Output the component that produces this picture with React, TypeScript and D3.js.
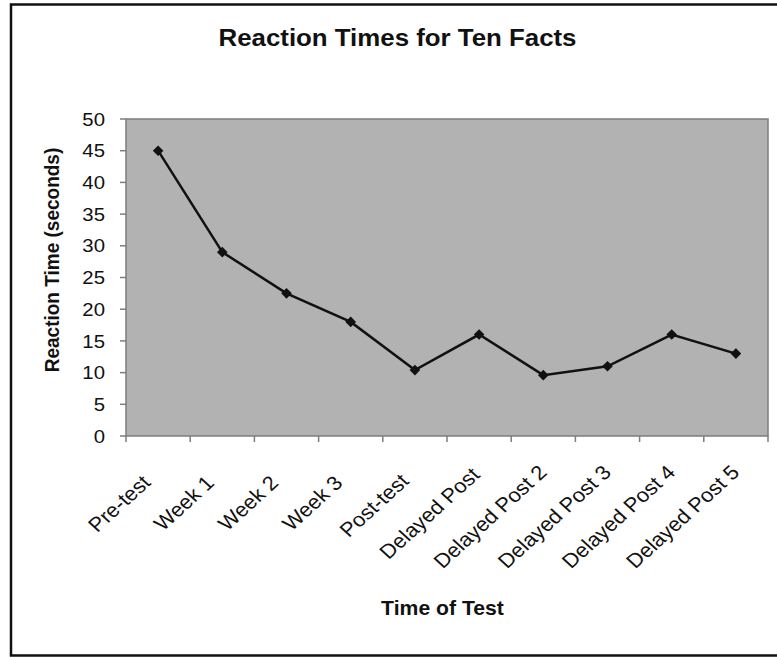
import React, { useEffect, useRef } from 'react';
import * as d3 from 'd3';

const categories = [
  'Pre-test', 'Week 1', 'Week 2', 'Week 3', 'Post-test',
  'Delayed Post', 'Delayed Post 2', 'Delayed Post 3', 'Delayed Post 4', 'Delayed Post 5',
];
const reactionTimes = [45, 29, 22.5, 18, 10.4, 16, 9.6, 11, 16, 13];
const yTicks = [0, 5, 10, 15, 20, 25, 30, 35, 40, 45, 50];

const W = 777;
const H = 657;
const FONT = 'Arial, "Liberation Sans", Helvetica, sans-serif';
const STRETCH = 1.1; // the source picture is a bit wider than tall

const App: React.FC = () => {
  const svgRef = useRef<SVGSVGElement>(null);

  useEffect(() => {
    if (!svgRef.current) return;
    const svg = d3.select(svgRef.current);
    svg.selectAll('*').remove();

    const plot = { left: 126, top: 119, right: 768, bottom: 436 };

    const x = d3.scaleBand<string>().domain(categories).range([plot.left, plot.right]);
    const y = d3.scaleLinear().domain([0, 50]).range([plot.bottom, plot.top]);
    const cx = (c: string) => (x(c) as number) + x.bandwidth() / 2;

    // outer frame
    svg.append('rect')
      .attr('x', 11).attr('y', 4.5)
      .attr('width', 780).attr('height', 651)
      .attr('fill', 'white')
      .attr('stroke', '#111').attr('stroke-width', 2.5);

    // plot background
    svg.append('rect')
      .attr('x', plot.left).attr('y', plot.top)
      .attr('width', plot.right - plot.left).attr('height', plot.bottom - plot.top)
      .attr('fill', '#b2b2b2')
      .attr('stroke', '#7d7d7d').attr('stroke-width', 1.5);

    // y axis
    const yAxis = svg.append('g');
    yAxis.selectAll('line')
      .data(yTicks)
      .enter()
      .append('line')
      .attr('x1', plot.left - 6).attr('x2', plot.left)
      .attr('y1', d => y(d)).attr('y2', d => y(d))
      .attr('stroke', '#7d7d7d').attr('stroke-width', 1.5);
    yAxis.selectAll('text')
      .data(yTicks)
      .enter()
      .append('text')
      .attr('transform', d => `translate(${plot.left - 21},${y(d)}) scale(${STRETCH},1)`)
      .attr('dy', '0.36em')
      .attr('text-anchor', 'end')
      .attr('font-family', FONT)
      .attr('font-size', 18.5)
      .attr('fill', '#111')
      .text(d => d);

    // x axis ticks at category boundaries
    const xBounds = categories.map(c => x(c) as number).concat([plot.right]);
    svg.append('g').selectAll('line')
      .data(xBounds)
      .enter()
      .append('line')
      .attr('x1', d => d).attr('x2', d => d)
      .attr('y1', plot.bottom).attr('y2', plot.bottom + 6)
      .attr('stroke', '#7d7d7d').attr('stroke-width', 1.5);

    // x labels rotated, end position shifts a little with label length
    svg.append('g').selectAll<SVGTextElement, string>('text')
      .data(categories)
      .enter()
      .append('text')
      .attr('transform', d => `translate(${cx(d)},${plot.bottom + 42}) scale(${STRETCH},1) rotate(-45)`)
      .attr('text-anchor', 'end')
      .attr('font-family', FONT)
      .attr('font-size', 20)
      .attr('fill', '#111')
      .text(d => d)
      .attr('x', function () {
        const len = (this as SVGTextElement).getComputedTextLength();
        return -23.6 + 0.22 * len;
      });

    // line
    const line = d3.line<number>()
      .x((_, i) => cx(categories[i]))
      .y(d => y(d));
    svg.append('path')
      .datum(reactionTimes)
      .attr('d', line)
      .attr('fill', 'none')
      .attr('stroke', '#111')
      .attr('stroke-width', 2.5);

    // diamond markers
    const diamond = d3.symbol().type(d3.symbolDiamond2).size(72);
    svg.append('g').selectAll('path')
      .data(reactionTimes)
      .enter()
      .append('path')
      .attr('d', diamond)
      .attr('transform', (d, i) => `translate(${cx(categories[i])},${y(d)})`)
      .attr('fill', '#111');

    // titles
    svg.append('text')
      .attr('transform', `translate(397.5,46) scale(${STRETCH},1)`)
      .attr('text-anchor', 'middle')
      .attr('font-family', FONT)
      .attr('font-size', 23.5)
      .attr('font-weight', 'bold')
      .attr('fill', '#111')
      .text('Reaction Times for Ten Facts');

    svg.append('text')
      .attr('transform', `translate(59,260) scale(${STRETCH},1) rotate(-90)`)
      .attr('text-anchor', 'middle')
      .attr('font-family', FONT)
      .attr('font-size', 19)
      .attr('font-weight', 'bold')
      .attr('fill', '#111')
      .text('Reaction Time (seconds)');

    svg.append('text')
      .attr('transform', 'translate(442.5,615) scale(1.06,1)')
      .attr('text-anchor', 'middle')
      .attr('font-family', FONT)
      .attr('font-size', 20)
      .attr('font-weight', 'bold')
      .attr('fill', '#111')
      .text('Time of Test');
  }, []);

  return (
    <svg
      ref={svgRef}
      width={W}
      height={H}
      style={{ position: 'absolute', left: 0, top: 0, background: 'white' }}
    />
  );
};

export default App;
